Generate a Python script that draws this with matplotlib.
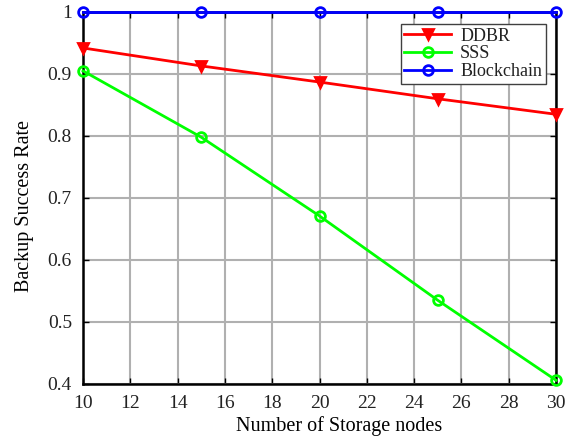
import matplotlib.pyplot as plt
import numpy as np

nodes = [10, 15, 20, 25, 30]
ddbr = [0.942, 0.913, 0.887, 0.860, 0.835]
sss = [0.905, 0.798, 0.671, 0.535, 0.406]
blockchain = [1.0, 1.0, 1.0, 1.0, 1.0]

plt.rcParams['font.family'] = ['Liberation Serif', 'DejaVu Serif']
plt.rcParams['text.color'] = '#222222'

fig = plt.figure(figsize=(5.78, 4.36), dpi=100)
ax = fig.add_axes([0.1436, 0.1193, 0.8184, 0.8532])

ax.plot(nodes, ddbr, color='red', lw=2, marker='v', ms=6.5, mew=2,
        mfc='red', label='DDBR', clip_on=False, zorder=3)
ax.plot(nodes, sss, color='#00ff00', lw=2, marker='o', ms=7, mew=2,
        mfc='none', label='SSS', clip_on=False, zorder=3)
ax.plot(nodes, blockchain, color='blue', lw=2, marker='o', ms=7, mew=2,
        mfc='none', label='Blockchain', clip_on=False, zorder=3)

ax.set_xlim(10, 30)
ax.set_ylim(0.4, 1.0)
ax.set_xticks(np.arange(10, 31, 2))
ax.set_yticks([0.4, 0.5, 0.6, 0.7, 0.8, 0.9, 1.0])
ax.set_yticklabels(['0.4', '0.5', '0.6', '0.7', '0.8', '0.9', '1'])
ax.tick_params(labelsize=14, direction='in', length=4, width=1,
               top=True, right=True, pad=8, labelcolor='#222222')
ax.grid(True, color='#b0b0b0', lw=1.5)
for s in ax.spines.values():
    s.set_linewidth(1.8)

ax.set_xlabel('Number of Storage nodes', fontsize=14.5, labelpad=3)
ax.set_ylabel('Backup Success Rate', fontsize=14.5, labelpad=10)
# labels sit a little off the axis centre
ax.xaxis.label.set_x(0.541)
ax.yaxis.label.set_y(0.478)

leg = ax.legend(loc='upper right', bbox_to_anchor=(0.978, 0.968), fontsize=13,
                fancybox=False, edgecolor='#404040', framealpha=1,
                borderpad=0.2, labelspacing=0.05, handlelength=2.6,
                handletextpad=0.5, borderaxespad=0)
leg.get_frame().set_linewidth(1)

fig.savefig('out.png', dpi=100)
